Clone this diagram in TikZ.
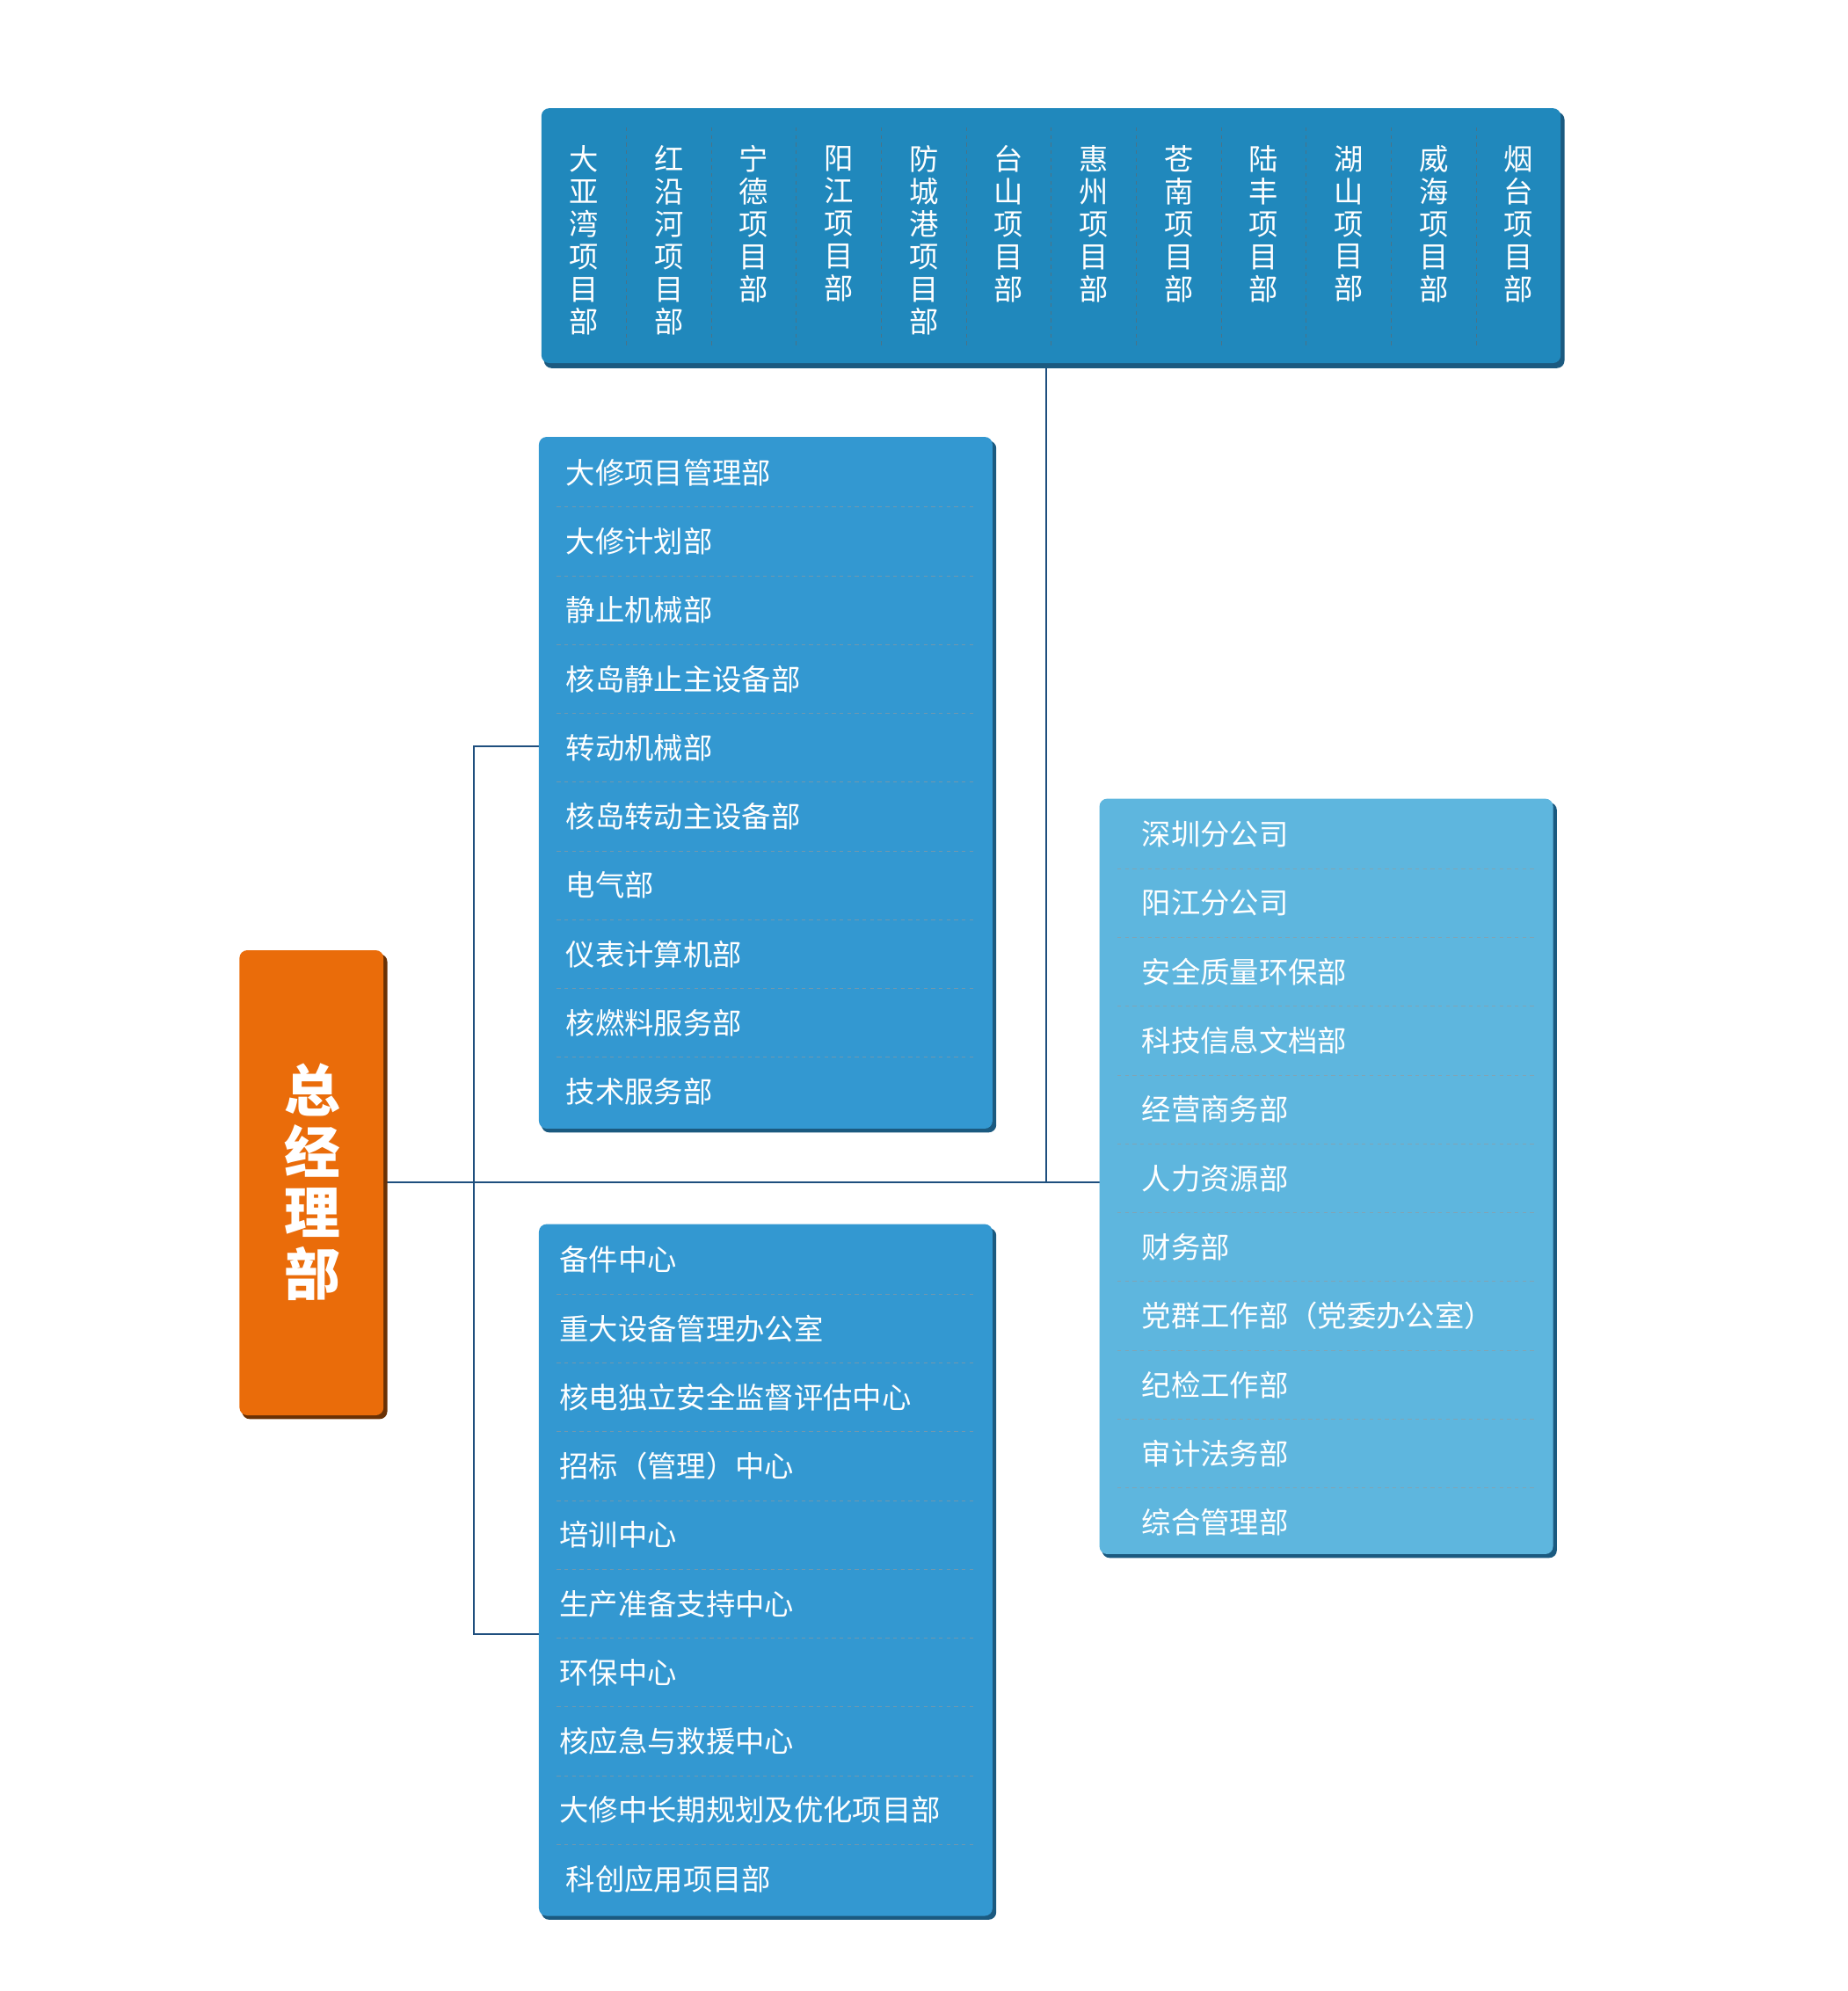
\documentclass[tikz,border=0pt]{standalone}
\usepackage{fontspec}
\setmainfont{Noto Sans CJK SC}
\begin{document}
\begin{tikzpicture}[x=1pt,y=-1pt,
  lnk/.style={draw=lnc,line width=1.6pt},
  sep/.style={draw=white!60!black,dashed,line width=0.6pt,opacity=0.6},
  txt/.style={text=white,anchor=west,font=\fontsize{23}{25}\selectfont,inner sep=0pt},
  vtxt/.style={text=white,anchor=north,align=center,font=\fontsize{23}{25.5}\selectfont,inner sep=0pt}]
\definecolor{lnc}{HTML}{1F4F7E}
\definecolor{topc}{HTML}{2088BC}
\definecolor{midc}{HTML}{3398D1}
\definecolor{ritc}{HTML}{5EB6DE}
\definecolor{orc}{HTML}{EA6C0A}
\definecolor{shd}{HTML}{1B5A80}
\useasboundingbox (0,0) rectangle (1450,1563);
\fill[white] (0,0) rectangle (1450,1563);
% connectors
\draw[lnk] (303,928) -- (863,928);
\draw[lnk] (821,288) -- (821,928);
\draw[lnk] (423,586) -- (372,586) -- (372,1283) -- (423,1283);
% top box
\fill[shd,rounded corners=6pt] (427,88) rectangle (1228,289);
\fill[topc,rounded corners=6pt] (425,85) rectangle (1225,285);
\foreach \i in {1,...,11} \draw[sep,draw=black!60] (425+\i*66.7,100) -- (425+\i*66.7,272);
\foreach \t [count=\i] in {大\\亚\\湾\\项\\目\\部,红\\沿\\河\\项\\目\\部,宁\\德\\项\\目\\部,阳\\江\\项\\目\\部,防\\城\\港\\项\\目\\部,台\\山\\项\\目\\部,惠\\州\\项\\目\\部,苍\\南\\项\\目\\部,陆\\丰\\项\\目\\部,湖\\山\\项\\目\\部,威\\海\\项\\目\\部,烟\\台\\项\\目\\部}
  \node[vtxt] (p\i) at (425+\i*66.7-33.3,114) {\t};
% left block 1
\fill[shd,rounded corners=6pt] (425,346) rectangle (782,889);
\fill[midc,rounded corners=6pt] (423,343) rectangle (779,886);
\foreach \i in {1,...,9} \draw[sep] (437,344+\i*54) -- (765,344+\i*54);
\foreach \t [count=\i] in {大修项目管理部,大修计划部,静止机械部,核岛静止主设备部,转动机械部,核岛转动主设备部,电气部,仪表计算机部,核燃料服务部,技术服务部}
  \node[txt] (a\i) at (444,371+\i*54-54) {\t};
% left block 2
\fill[shd,rounded corners=6pt] (425,964) rectangle (782,1507);
\fill[midc,rounded corners=6pt] (423,961) rectangle (779,1504);
\foreach \i in {1,...,9} \draw[sep] (437,962+\i*54) -- (765,962+\i*54);
\foreach \t [count=\i] in {备件中心,重大设备管理办公室,核电独立安全监督评估中心,招标（管理）中心,培训中心,生产准备支持中心,环保中心,核应急与救援中心,大修中长期规划及优化项目部,{\hspace{5pt}科创应用项目部}}
  \node[txt] (b\i) at (439,989+\i*54-54) {\t};
% right block
\fill[shd,rounded corners=6pt] (865,630) rectangle (1222,1223);
\fill[ritc,rounded corners=6pt] (863,627) rectangle (1219,1220);
\foreach \i in {1,...,10} \draw[sep] (877,628+\i*54) -- (1205,628+\i*54);
\foreach \t [count=\i] in {深圳分公司,阳江分公司,安全质量环保部,科技信息文档部,经营商务部,人力资源部,财务部,党群工作部（党委办公室）,纪检工作部,审计法务部,综合管理部}
  \node[txt] (c\i) at (896,655+\i*54-54) {\t};
% orange
\fill[black!55!orc,rounded corners=6pt] (190,749) rectangle (304,1114);
\fill[orc,rounded corners=6pt] (188,746) rectangle (301,1111);
\node[text=white,align=center,inner sep=0pt,font=\fontsize{44}{48}\bfseries\selectfont] (g) at (245,928) {总\\经\\理\\部};
\end{tikzpicture}
\end{document}
